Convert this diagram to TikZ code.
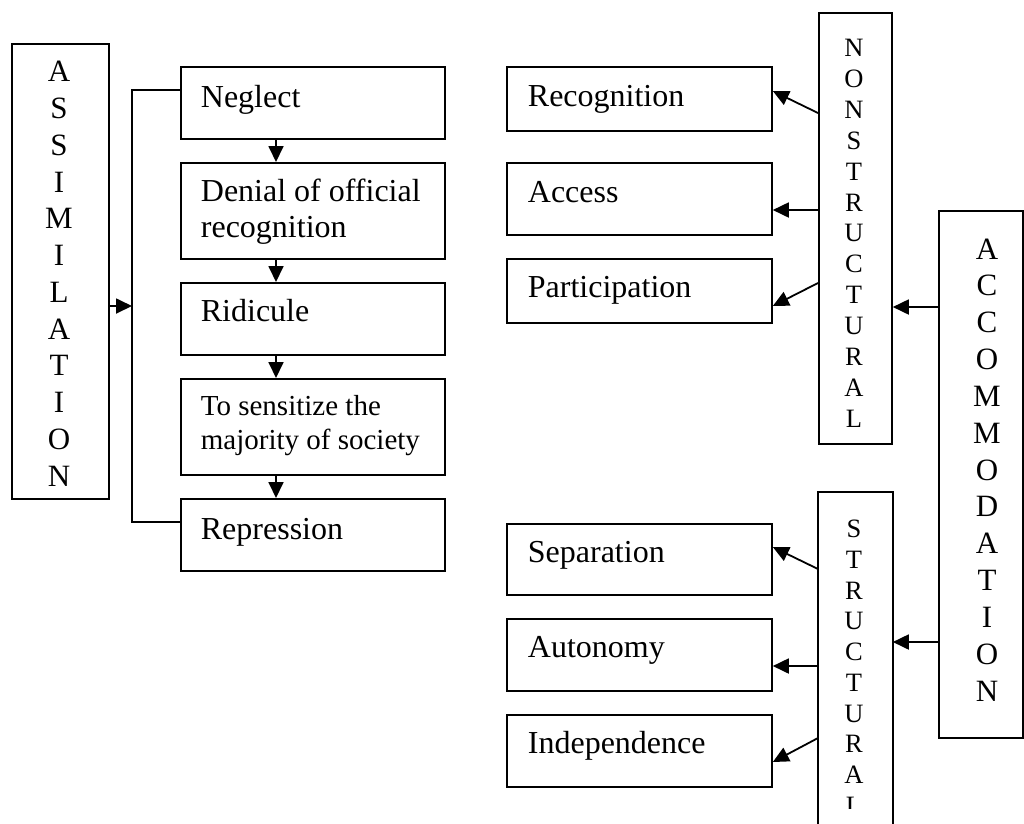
\documentclass[tikz,border=0pt]{standalone}
\usepackage{fontspec}
\setmainfont{Liberation Serif}
\usetikzlibrary{arrows.meta,calc}
\begin{document}
\begin{tikzpicture}[x=1pt,y=-1pt,
  line width=1.8pt,
  box/.style={draw, rectangle, inner sep=0pt, anchor=north west},
  txt/.style={inner sep=0pt, anchor=base west, font=\fontsize{32}{36}\selectfont},
  vl/.style={inner sep=0pt, anchor=base, font=\fontsize{31}{36}\selectfont},
  vs/.style={inner sep=0pt, anchor=base, font=\fontsize{26.5}{30}\selectfont},
  arr/.style={-{Triangle[length=16pt,width=15pt]}},
]
\path[use as bounding box] (0,0) rectangle (1024,823);

% ---------- left part ----------
\node[box, minimum width=97pt, minimum height=455pt] (as) at (11,43) {};
\foreach \l [count=\i from 0] in {A,S,S,I,M,I,L,A,T,I,O,N}
  \node[vl] (as-\i) at (59, 81.8+36.77*\i) {\l};

\node[box, minimum width=264pt, minimum height=72pt] (neg) at (180,66) {};
\node[box, minimum width=264pt, minimum height=96pt] (den) at (180,162) {};
\node[box, minimum width=264pt, minimum height=72pt] (rid) at (180,282) {};
\node[box, minimum width=264pt, minimum height=96pt] (sen) at (180,378) {};
\node[box, minimum width=264pt, minimum height=72pt] (rep) at (180,498) {};

\node[txt] (neg-t) at (200,107) {Neglect};
\node[txt] (den-t) at (200,201) {\begin{tabular}[t]{@{}l@{}}Denial of official\\recognition\end{tabular}};
\node[txt] (rid-t) at (200,321) {Ridicule};
\node[txt, font=\fontsize{29}{34.5}\selectfont] (sen-t) at (200,415) {\begin{tabular}[t]{@{}l@{}}To sensitize the\\majority of society\end{tabular}};
\node[txt] (rep-t) at (200,539) {Repression};

\draw[arr] ($(neg.south west)+(96,0)$) -- ($(den.north west)+(96,0)$);
\draw[arr] ($(den.south west)+(96,0)$) -- ($(rid.north west)+(96,0)$);
\draw[arr] ($(rid.south west)+(96,0)$) -- ($(sen.north west)+(96,0)$);
\draw[arr] ($(sen.south west)+(96,0)$) -- ($(rep.north west)+(96,0)$);

\coordinate (bt) at (132,90);
\coordinate (bm) at (132,306);
\coordinate (bb) at (132,522);
\draw ($(neg.north west)+(0,24)$) -- (bt) -- (bb) -- ($(rep.north west)+(0,24)$);
\draw[arr] ($(as.north east)+(0,263)$) -- (bm);

% ---------- right part ----------
\node[box, minimum width=73pt, minimum height=431pt] (nons) at (818,12) {};
\foreach \l [count=\i from 0] in {N,O,N,S,T,R,U,C,T,U,R,A,L}
  \node[vs] (ns-\i) at (854, 56.5+30.9*\i) {\l};

\node[anchor=north west, inner sep=0pt, minimum width=73pt, minimum height=331pt] (str) at (818,492) {};
\draw (str.south west) |- (str.north east) -- (str.south east);
\begin{scope}
  \clip (818,492) rectangle (891,808);
  \foreach \l [count=\i from 0] in {S,T,R,U,C,T,U,R,A,L}
    \node[vs] (st-\i) at (854, 537.8+30.7*\i) {\l};
\end{scope}

\node[box, minimum width=84pt, minimum height=527pt] (acc) at (938,210) {};
\foreach \l [count=\i from 0] in {A,C,C,O,M,M,O,D,A,T,I,O,N}
  \node[vl] (ac-\i) at (987, 259+36.85*\i) {\l};

\node[box, minimum width=265pt, minimum height=64pt] (rec) at (506,66) {};
\node[box, minimum width=265pt, minimum height=72pt] (acs) at (506,162) {};
\node[box, minimum width=265pt, minimum height=64pt] (par) at (506,258) {};
\node[box, minimum width=265pt, minimum height=71pt] (sep) at (506,523) {};
\node[box, minimum width=265pt, minimum height=72pt] (aut) at (506,618) {};
\node[box, minimum width=265pt, minimum height=72pt] (ind) at (506,714) {};

\node[txt] (rec-t) at (527,106) {Recognition};
\node[txt] (acs-t) at (527,202) {Access};
\node[txt] (par-t) at (527,297) {Participation};
\node[txt] (sep-t) at (527,562) {Separation};
\node[txt] (aut-t) at (527,657) {Autonomy};
\node[txt] (ind-t) at (527,753) {Independence};

\draw[arr] ($(nons.north west)+(0,101)$) -- ($(rec.north east)+(0,25)$);
\draw[arr] ($(nons.north west)+(0,198)$) -- ($(acs.north east)+(0,48)$);
\draw[arr] ($(nons.north west)+(0,271)$) -- ($(par.north east)+(0,48)$);
\draw[arr] ($(str.north west)+(0,77)$) -- ($(sep.north east)+(0,24)$);
\draw[arr] ($(str.north west)+(0,174)$) -- ($(aut.north east)+(0,48)$);
\draw[arr] ($(str.north west)+(0,246)$) -- ($(ind.north east)+(0,48)$);

\draw[arr] ($(acc.north west)+(0,97)$) -- ($(nons.north east)+(0,295)$);
\draw[arr] ($(acc.north west)+(0,432)$) -- ($(str.north east)+(0,150)$);
\end{tikzpicture}
\end{document}
